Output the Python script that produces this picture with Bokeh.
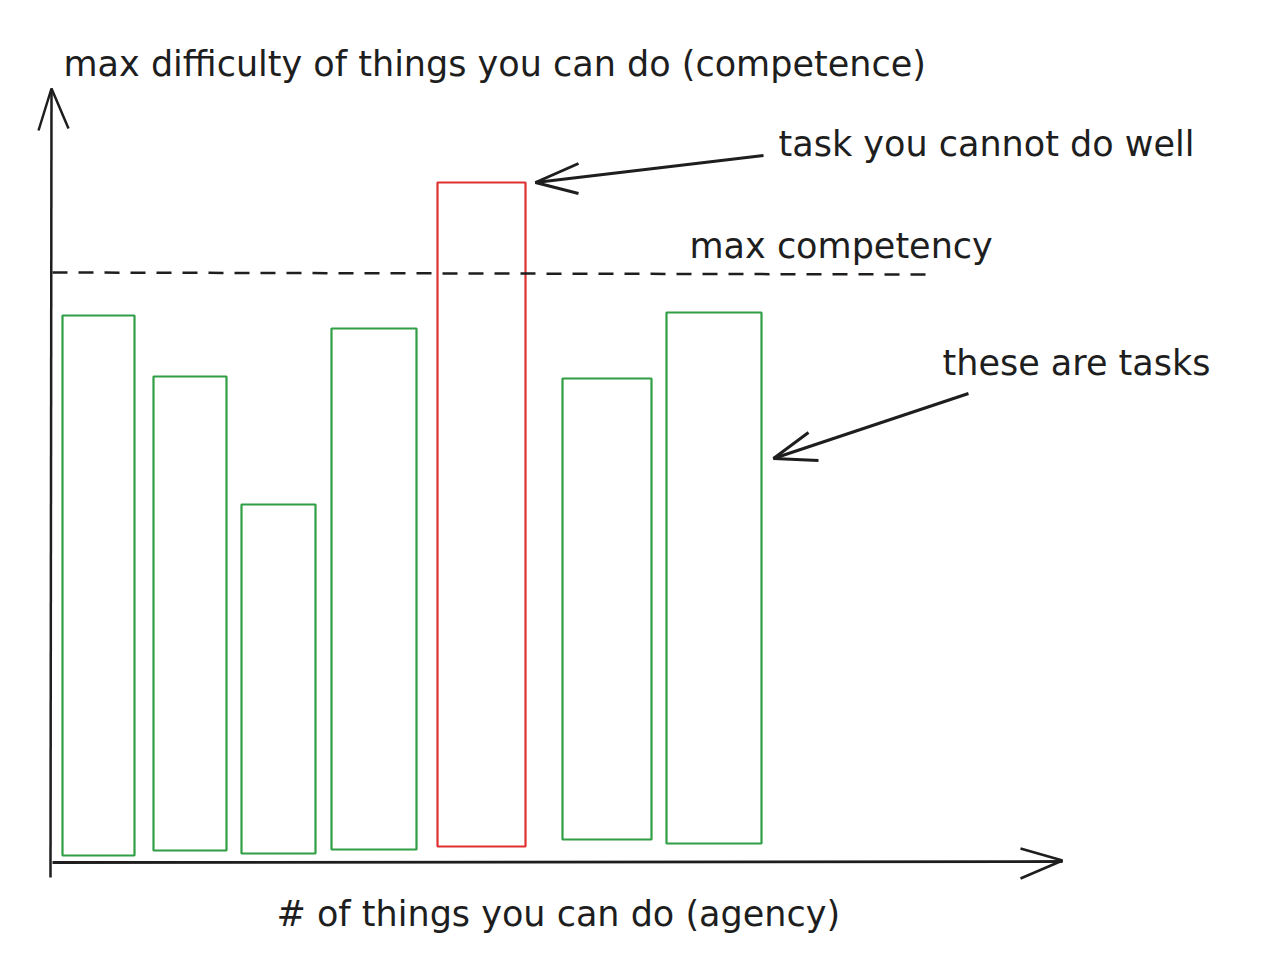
from bokeh.plotting import figure
from bokeh.models import Range1d, ColumnDataSource
from bokeh.core.properties import value
from bokeh.embed import file_html
from bokeh.resources import INLINE

# ---- data (x: agency units, y: difficulty units) ----
tasks = ["t1", "t2", "t3", "t4", "t5", "t6", "t7"]
task_left = [10, 101, 189, 279, 385, 510, 614]
task_right = [82, 174, 263, 364, 473, 599, 709]
task_bottom = [7, 12, 9, 13, 16, 23, 19]
task_top = [547, 486, 358, 534, 680, 484, 550]
max_competency = 589

GREEN = "#2f9e44"
RED = "#e03131"
INK = "#1e1e1e"
FONT = "DejaVu Sans"
FS = "35px"

colors = [RED if t > max_competency else GREEN for t in task_top]

src = ColumnDataSource(dict(task=tasks, left=task_left, right=task_right,
                            bottom=task_bottom, top=task_top, color=colors))

p = figure(width=1250, height=952, x_range=Range1d(-52, 1198), y_range=Range1d(-90, 862),
           output_backend="svg", toolbar_location=None, min_border=0)
p.axis.visible = False
p.grid.visible = False
p.outline_line_color = None
p.background_fill_color = "white"
p.border_fill_color = "white"

# bars (outlined only)
p.quad(left="left", right="right", bottom="bottom", top="top", source=src,
       fill_color=None, line_color="color", line_width=2.2)

# max competency dashed line
p.line([0, 878], [max_competency + 1, max_competency - 1], line_color=INK,
       line_width=2.5, line_dash="15 11")

# axes drawn as arrows
p.line([-2, -1], [-15, 774], line_color=INK, line_width=2.5)
p.line([-14, -1, 16], [732, 774, 734], line_color=INK, line_width=2.5)
p.line([0, 1010], [0, 1], line_color=INK, line_width=2.8)
p.line([968, 1010, 968], [14, 2, -16], line_color=INK, line_width=2.5)

# annotation arrows
p.line([711, 483], [707, 680], line_color=INK, line_width=3)
p.line([526, 483, 526], [699, 680, 669], line_color=INK, line_width=3)
p.line([916, 721], [469, 404], line_color=INK, line_width=3)
p.line([756, 721, 766], [430, 404, 402], line_color=INK, line_width=3)

# texts
def label(x, y, s):
    p.text(x=[x], y=[y], text=[s], text_font=value(FONT), text_font_size=FS,
           text_color=INK, text_align="left", text_baseline="middle")

label(11, 799, "max difficulty of things you can do (competence)")
label(726, 719, "task you cannot do well")
label(637, 617, "max competency")
label(890, 500, "these are tasks")
label(224, -51, "# of things you can do (agency)")

open("out.html", "w").write(file_html(p, INLINE))
